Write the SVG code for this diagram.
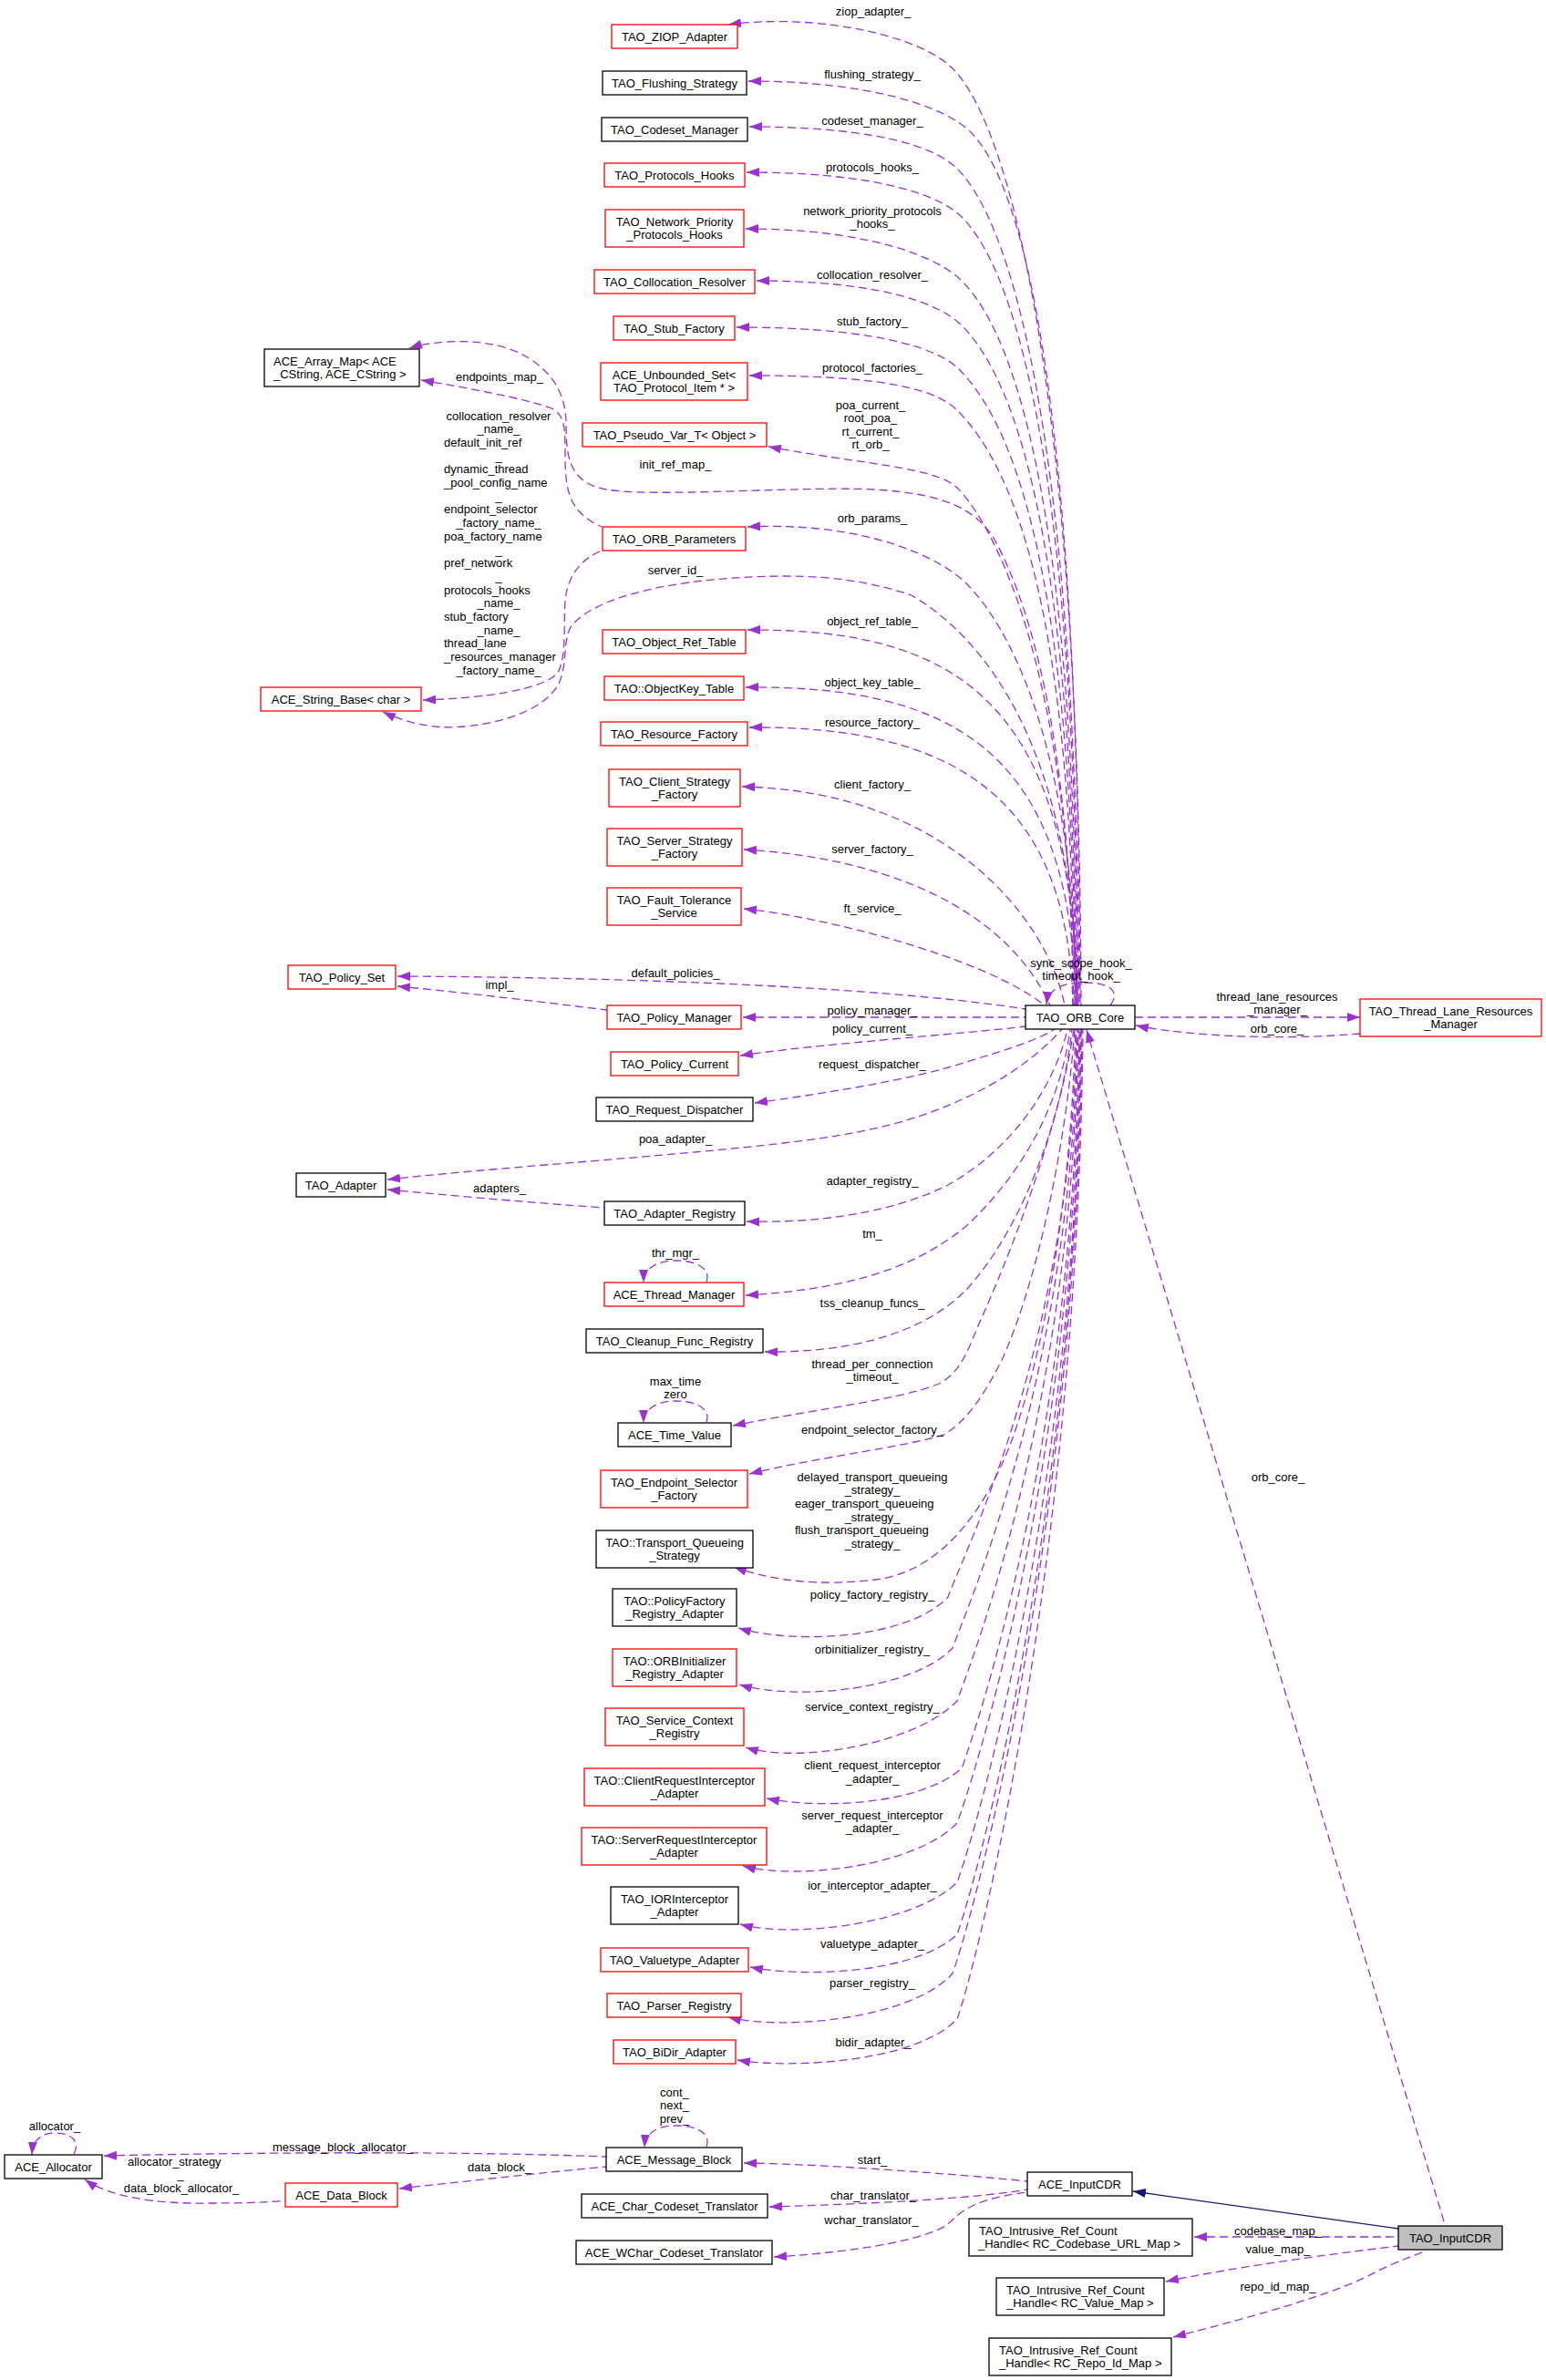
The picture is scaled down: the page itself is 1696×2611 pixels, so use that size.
<svg xmlns="http://www.w3.org/2000/svg" width="1696" height="2611" viewBox="0 0 1696 2611">
<defs>
<marker id="a" viewBox="0 0 14 10" refX="14" refY="5" markerWidth="14" markerHeight="10" markerUnits="userSpaceOnUse" orient="auto-start-reverse"><path d="M0,0 L14,5 L0,10 z" fill="#9a32cd"/></marker>
<marker id="b" viewBox="0 0 14 10" refX="14" refY="5" markerWidth="14" markerHeight="10" markerUnits="userSpaceOnUse" orient="auto-start-reverse"><path d="M0,0 L14,5 L0,10 z" fill="#191970"/></marker>
</defs>
<style>
text{font-family:"Liberation Sans",Arial,Helvetica,sans-serif;font-size:13px;fill:#000}
.n rect{fill:#fff;stroke:#000;stroke-width:1.3}
.r rect{stroke:#ff0000}
.g rect{fill:#bfbfbf}
.n text{text-anchor:middle}
.n text.l{text-anchor:start}
#edges path{fill:none;stroke:#9a32cd;stroke-width:1.3;stroke-dasharray:9,5}
#edges path.s{marker-start:url(#a)}
#edges path.e{marker-end:url(#a)}
#edges path.inh{stroke:#191970;stroke-dasharray:none;marker-end:url(#b)}
#labels text{text-anchor:middle}
#labels text.l{text-anchor:start}
</style>
<rect width="1696" height="2611" fill="#fff"/>
<g id="edges">
<path class="s" d="M799,27 C900,14 1010,40 1045,75 C1110,140 1184,435 1186,1103"/>
<path class="s" d="M821,89 C955,89 1037,117 1065,145 C1130,210 1183,480 1185,1103"/>
<path class="s" d="M822,139 C947,139 1022,157 1050,185 C1115,250 1181,506 1184,1103"/>
<path class="s" d="M819,189 C949,189 1027,210 1055,238 C1120,303 1180,541 1183,1103"/>
<path class="s" d="M818,251 C948,251 1027,280 1055,308 C1120,373 1179,586 1182,1103"/>
<path class="s" d="M830,308 C954,308 1027,329 1055,357 C1120,422 1178,618 1181,1103"/>
<path class="s" d="M808,359 C942,359 1024,377 1052,405 C1117,470 1177,649 1180,1103"/>
<path class="s" d="M822,412 C947,412 1022,422 1050,450 C1115,515 1176,679 1179,1103"/>
<path class="s" d="M843,490 C950,510 1025,512 1050,535 C1090,575 1175,734 1178,1103"/>
<path class="s" d="M449,382 C480,372 540,370 575,390 C608,408 621,435 621,465 C621,500 624,530 665,537 C720,546 880,533 960,537 C1040,542 1070,560 1090,590 C1140,680 1176,850 1177,1103"/>
<path class="s" d="M462,417 C510,425 580,438 605,448 C620,455 620,470 620,500 C620,540 625,562 660,578"/>
<path class="s" d="M464,768 C530,766 595,757 612,738 C622,720 618,680 620,660 C622,630 640,612 660,604"/>
<path class="s" d="M820,578 C950,572 1032,612 1060,640 C1100,680 1178,802 1181,1103"/>
<path class="s" d="M420,781 C450,795 480,800 510,797 C560,792 600,775 613,750 C623,728 617,705 626,688 C650,655 740,633 860,632 C920,632 960,640 1000,653 C1080,700 1178,820 1182,1103"/>
<path class="s" d="M820,691 C1040,690 1178,760 1181,1103"/>
<path class="s" d="M818,754 C1040,752 1176,820 1180,1103"/>
<path class="s" d="M822,798 C1040,796 1172,870 1177,1103"/>
<path class="s" d="M814,863 C1040,868 1150,1010 1168,1103"/>
<path class="s" d="M816,932 C960,940 1100,990 1152,1103"/>
<path class="s" d="M816,997 C900,1005 1080,1050 1146,1103"/>
<path class="s" d="M436,1071 C650,1072 950,1080 1125,1107"/>
<path class="s" d="M436,1082 C520,1090 600,1100 666,1108"/>
<path class="s" d="M815,1116 L1125,1116"/>
<path class="s" d="M812,1158 C900,1145 1050,1135 1125,1126"/>
<path class="s" d="M828,1210 C900,1200 1000,1185 1060,1165 C1110,1150 1140,1140 1157,1129"/>
<path class="s" d="M425,1294 C600,1275 850,1262 950,1240 C1040,1222 1120,1180 1165,1129"/>
<path class="s" d="M425,1305 C500,1312 590,1320 663,1325"/>
<path class="s" d="M819,1340 C900,1342 980,1330 1040,1300 C1120,1255 1160,1180 1171,1129"/>
<path class="s" d="M818,1421 C920,1415 1000,1395 1060,1345 C1130,1280 1165,1200 1174,1129"/>
<path class="s" d="M839,1483 C930,1484 1010,1465 1060,1415 C1120,1350 1165,1230 1176,1129"/>
<path class="s" d="M804,1564 C900,1545 990,1535 1030,1518 C1055,1505 1062,1480 1075,1450 C1120,1350 1165,1220 1178,1129"/>
<path class="s" d="M822,1617 C900,1598 990,1588 1035,1574 C1060,1560 1080,1530 1100,1490 C1140,1400 1170,1250 1179,1129"/>
<path class="s" d="M805,1719 C850,1735 900,1740 960,1733 C1030,1725 1080,1660 1110,1580 C1150,1470 1175,1300 1180,1129"/>
<path class="s" d="M810,1786 C870,1804 995,1799 1040,1752 C1060,1697 1175,1472 1181,1129"/>
<path class="s" d="M811,1848 C871,1866 1000,1855 1045,1808 C1065,1753 1176,1502 1182,1129"/>
<path class="s" d="M818,1917 C878,1935 1005,1913 1050,1866 C1070,1811 1177,1534 1183,1129"/>
<path class="s" d="M841,1973 C901,1985 1010,1980 1055,1940 C1075,1885 1178,1575 1184,1129"/>
<path class="s" d="M815,2047 C875,2063 1005,2047 1050,2000 C1070,1945 1179,1608 1185,1129"/>
<path class="s" d="M812,2111 C872,2127 1005,2110 1050,2065 C1070,2010 1180,1644 1186,1129"/>
<path class="s" d="M823,2158 C883,2170 1005,2165 1050,2122 C1070,2067 1180,1675 1186,1129"/>
<path class="s" d="M799,2213 C860,2228 1000,2215 1045,2165 C1065,2110 1181,1699 1187,1129"/>
<path class="s" d="M809,2260 C870,2270 1005,2262 1050,2215 C1070,2160 1182,1726 1188,1129"/>
<path class="e" d="M1218,1103 C1228,1090 1222,1078 1190,1078 C1165,1078 1150,1085 1148,1102"/>
<path class="e" d="M1245,1116 L1492,1116"/>
<path class="s" d="M1246,1125 C1300,1136 1400,1142 1492,1134"/>
<path class="e" d="M1584,2437 L1192,1130"/>
<path class="e" d="M775,1406 C780,1392 765,1383 741,1383 C720,1383 706,1392 706,1407"/>
<path class="e" d="M775,1560 C780,1546 765,1537 741,1537 C720,1537 706,1546 706,1561"/>
<path class="e" d="M775,2355 C780,2340 765,2332 742,2332 C720,2332 708,2340 707,2356"/>
<path class="e" d="M81,2363 C88,2350 80,2340 60,2340 C45,2340 36,2348 35,2364"/>
<path class="s" d="M816,2373 C900,2374 1050,2385 1127,2393"/>
<path class="s" d="M844,2421 C950,2418 1070,2412 1127,2402"/>
<path class="s" d="M849,2476 C950,2470 1020,2455 1040,2440 C1055,2425 1070,2412 1127,2405"/>
<path class="s" d="M114,2365 C300,2361 500,2360 665,2366"/>
<path class="s" d="M438,2401 C520,2392 600,2383 665,2377"/>
<path class="s" d="M93,2391 C120,2410 170,2418 230,2417 C270,2417 295,2416 313,2414"/>
<path class="s" d="M1310,2454 L1534,2454"/>
<path class="s" d="M1279,2503 C1350,2488 1450,2474 1534,2464"/>
<path class="s" d="M1287,2564 C1380,2540 1470,2515 1510,2492 C1535,2480 1550,2475 1562,2470"/>
<path class="inh" d="M1534,2445 L1243,2404"/>
</g>
<g id="labels">
<text x="958" y="16.5">ziop_adapter_</text>
<text x="957" y="85.5">flushing_strategy_</text>
<text x="957" y="136.5">codeset_manager_</text>
<text x="957" y="187.5">protocols_hooks_</text>
<text x="957" y="235.5">network_priority_protocols</text>
<text x="957" y="249.5">_hooks_</text>
<text x="957" y="305.5">collocation_resolver_</text>
<text x="957" y="356.5">stub_factory_</text>
<text x="957" y="407.5">protocol_factories_</text>
<text x="548" y="417.5">endpoints_map_</text>
<text x="955" y="448.5">poa_current_</text>
<text x="955" y="463">root_poa_</text>
<text x="955" y="477.5">rt_current_</text>
<text x="955" y="492">rt_orb_</text>
<text x="741" y="513.5">init_ref_map_</text>
<text x="547" y="460.5">collocation_resolver</text>
<text x="547" y="475.2">_name_</text>
<text class="l" x="487" y="489.9">default_init_ref</text>
<text x="547" y="504.6">_</text>
<text class="l" x="487" y="519.3">dynamic_thread</text>
<text class="l" x="487" y="534">_pool_config_name</text>
<text x="547" y="548.7">_</text>
<text class="l" x="487" y="563.4">endpoint_selector</text>
<text x="547" y="578.1">_factory_name_</text>
<text class="l" x="487" y="592.8">poa_factory_name</text>
<text x="547" y="607.5">_</text>
<text class="l" x="487" y="622.2">pref_network</text>
<text x="547" y="636.9">_</text>
<text class="l" x="487" y="651.6">protocols_hooks</text>
<text x="547" y="666.3">_name_</text>
<text class="l" x="487" y="681">stub_factory</text>
<text x="547" y="695.7">_name_</text>
<text class="l" x="487" y="710.4">thread_lane</text>
<text class="l" x="487" y="725.1">_resources_manager</text>
<text x="547" y="739.8">_factory_name_</text>
<text x="957" y="572.5">orb_params_</text>
<text x="741" y="629.5">server_id_</text>
<text x="957" y="685.5">object_ref_table_</text>
<text x="957" y="752.5">object_key_table_</text>
<text x="957" y="796.5">resource_factory_</text>
<text x="957" y="864.5">client_factory_</text>
<text x="957" y="935.5">server_factory_</text>
<text x="957" y="1000.5">ft_service_</text>
<text x="1186" y="1060.5">sync_scope_hook_</text>
<text x="1186" y="1075">timeout_hook_</text>
<text x="741" y="1071.5">default_policies_</text>
<text x="548" y="1084.5">impl_</text>
<text x="957" y="1112.5">policy_manager_</text>
<text x="957" y="1132.5">policy_current_</text>
<text x="1401" y="1097.5">thread_lane_resources</text>
<text x="1401" y="1112">_manager_</text>
<text x="1401" y="1132.5">orb_core_</text>
<text x="957" y="1171.5">request_dispatcher_</text>
<text x="741" y="1253.5">poa_adapter_</text>
<text x="957" y="1299.5">adapter_registry_</text>
<text x="548" y="1307.5">adapters_</text>
<text x="957" y="1357.5">tm_</text>
<text x="741" y="1378.5">thr_mgr_</text>
<text x="957" y="1433.5">tss_cleanup_funcs_</text>
<text x="957" y="1500.5">thread_per_connection</text>
<text x="957" y="1515">_timeout_</text>
<text x="741" y="1519.5">max_time</text>
<text x="741" y="1533.5">zero</text>
<text x="957" y="1572.5">endpoint_selector_factory_</text>
<text x="957" y="1624.5">delayed_transport_queueing</text>
<text x="957" y="1639">_strategy_</text>
<text class="l" x="872" y="1653.5">eager_transport_queueing</text>
<text x="957" y="1668.5">_strategy_</text>
<text class="l" x="872" y="1683">flush_transport_queueing</text>
<text x="957" y="1697.5">_strategy_</text>
<text x="957" y="1753.5">policy_factory_registry_</text>
<text x="957" y="1813.5">orbinitializer_registry_</text>
<text x="957" y="1876.5">service_context_registry_</text>
<text x="957" y="1940.5">client_request_interceptor</text>
<text x="957" y="1955.5">_adapter_</text>
<text x="957" y="1995.5">server_request_interceptor</text>
<text x="957" y="2009.5">_adapter_</text>
<text x="957" y="2072.5">ior_interceptor_adapter_</text>
<text x="957" y="2136.5">valuetype_adapter_</text>
<text x="957" y="2179.5">parser_registry_</text>
<text x="958" y="2244.5">bidir_adapter_</text>
<text x="740" y="2299.5">cont_</text>
<text x="740" y="2313.5">next_</text>
<text x="740" y="2328.5">prev_</text>
<text x="60" y="2336.5">allocator_</text>
<text x="376" y="2359.5">message_block_allocator_</text>
<text class="l" x="140" y="2375.5">allocator_strategy</text>
<text x="198" y="2390">_</text>
<text x="199" y="2404.5">data_block_allocator_</text>
<text x="548" y="2381.5">data_block_</text>
<text x="957" y="2373.5">start_</text>
<text x="958" y="2412.5">char_translator_</text>
<text x="956" y="2439.5">wchar_translator_</text>
<text x="1402" y="1624.5">orb_core_</text>
<text x="1402" y="2451.5">codebase_map_</text>
<text x="1402" y="2471.5">value_map_</text>
<text x="1402" y="2512.5">repo_id_map_</text>
</g>
<g id="n1" class="n r"><rect x="671" y="27" width="138" height="26"/><text x="740" y="44.5">TAO_ZIOP_Adapter</text></g>
<g id="n2" class="n"><rect x="661" y="78" width="158" height="26"/><text x="740" y="95.5">TAO_Flushing_Strategy</text></g>
<g id="n3" class="n"><rect x="660" y="129" width="160" height="26"/><text x="740" y="146.5">TAO_Codeset_Manager</text></g>
<g id="n4" class="n r"><rect x="663" y="179" width="154" height="26"/><text x="740" y="196.5">TAO_Protocols_Hooks</text></g>
<g id="n5" class="n r"><rect x="664" y="230" width="152" height="41"/><text x="740" y="248">TAO_Network_Priority</text><text x="740" y="262">_Protocols_Hooks</text></g>
<g id="n6" class="n r"><rect x="652" y="296" width="176" height="26"/><text x="740" y="313.5">TAO_Collocation_Resolver</text></g>
<g id="n7" class="n r"><rect x="673" y="347" width="133" height="26"/><text x="739.5" y="364.5">TAO_Stub_Factory</text></g>
<g id="n8" class="n"><rect x="290" y="383" width="170" height="41"/><text class="l" x="300" y="401">ACE_Array_Map&lt; ACE</text><text class="l" x="300" y="415">_CString, ACE_CString &gt;</text></g>
<g id="n9" class="n r"><rect x="659" y="398" width="161" height="41"/><text x="739.5" y="416">ACE_Unbounded_Set&lt;</text><text x="739.5" y="430">TAO_Protocol_Item * &gt;</text></g>
<g id="n10" class="n r"><rect x="639" y="464" width="202" height="26"/><text x="740" y="481.5">TAO_Pseudo_Var_T&lt; Object &gt;</text></g>
<g id="n11" class="n r"><rect x="661" y="578" width="157" height="26"/><text x="739.5" y="595.5">TAO_ORB_Parameters</text></g>
<g id="n12" class="n r"><rect x="661" y="691" width="157" height="26"/><text x="739.5" y="708.5">TAO_Object_Ref_Table</text></g>
<g id="n13" class="n r"><rect x="663" y="742" width="153" height="26"/><text x="739.5" y="759.5">TAO::ObjectKey_Table</text></g>
<g id="n14" class="n r"><rect x="286" y="754" width="176" height="26"/><text x="374" y="771.5">ACE_String_Base&lt; char &gt;</text></g>
<g id="n15" class="n r"><rect x="659" y="792" width="161" height="26"/><text x="739.5" y="809.5">TAO_Resource_Factory</text></g>
<g id="n16" class="n r"><rect x="668" y="844" width="144" height="41"/><text x="740" y="862">TAO_Client_Strategy</text><text x="740" y="876">_Factory</text></g>
<g id="n17" class="n r"><rect x="666" y="909" width="148" height="41"/><text x="740" y="927">TAO_Server_Strategy</text><text x="740" y="941">_Factory</text></g>
<g id="n18" class="n r"><rect x="666" y="974" width="147" height="41"/><text x="739.5" y="992">TAO_Fault_Tolerance</text><text x="739.5" y="1006">_Service</text></g>
<g id="n19" class="n r"><rect x="316" y="1059" width="118" height="26"/><text x="375" y="1076.5">TAO_Policy_Set</text></g>
<g id="n20" class="n r"><rect x="666" y="1103" width="147" height="26"/><text x="739.5" y="1120.5">TAO_Policy_Manager</text></g>
<g id="n21" class="n"><rect x="1125" y="1103" width="120" height="26"/><text x="1185" y="1120.5">TAO_ORB_Core</text></g>
<g id="n22" class="n r"><rect x="1492" y="1096" width="199" height="41"/><text x="1591.5" y="1114">TAO_Thread_Lane_Resources</text><text x="1591.5" y="1128">_Manager</text></g>
<g id="n23" class="n r"><rect x="670" y="1154" width="140" height="26"/><text x="740" y="1171.5">TAO_Policy_Current</text></g>
<g id="n24" class="n"><rect x="654" y="1204" width="172" height="26"/><text x="740" y="1221.5">TAO_Request_Dispatcher</text></g>
<g id="n25" class="n"><rect x="325" y="1287" width="98" height="26"/><text x="374" y="1304.5">TAO_Adapter</text></g>
<g id="n26" class="n"><rect x="663" y="1318" width="154" height="26"/><text x="740" y="1335.5">TAO_Adapter_Registry</text></g>
<g id="n27" class="n r"><rect x="663" y="1407" width="153" height="26"/><text x="739.5" y="1424.5">ACE_Thread_Manager</text></g>
<g id="n28" class="n"><rect x="643" y="1458" width="194" height="26"/><text x="740" y="1475.5">TAO_Cleanup_Func_Registry</text></g>
<g id="n29" class="n"><rect x="678" y="1561" width="124" height="26"/><text x="740" y="1578.5">ACE_Time_Value</text></g>
<g id="n30" class="n r"><rect x="659" y="1613" width="161" height="41"/><text x="739.5" y="1631">TAO_Endpoint_Selector</text><text x="739.5" y="1645">_Factory</text></g>
<g id="n31" class="n"><rect x="654" y="1679" width="172" height="41"/><text x="740" y="1697">TAO::Transport_Queueing</text><text x="740" y="1711">_Strategy</text></g>
<g id="n32" class="n"><rect x="672" y="1743" width="136" height="41"/><text x="740" y="1761">TAO::PolicyFactory</text><text x="740" y="1775">_Registry_Adapter</text></g>
<g id="n33" class="n r"><rect x="672" y="1809" width="136" height="41"/><text x="740" y="1827">TAO::ORBInitializer</text><text x="740" y="1841">_Registry_Adapter</text></g>
<g id="n34" class="n r"><rect x="664" y="1874" width="152" height="41"/><text x="740" y="1892">TAO_Service_Context</text><text x="740" y="1906">_Registry</text></g>
<g id="n35" class="n r"><rect x="641" y="1940" width="198" height="41"/><text x="740" y="1958">TAO::ClientRequestInterceptor</text><text x="740" y="1972">_Adapter</text></g>
<g id="n36" class="n r"><rect x="638" y="2005" width="203" height="41"/><text x="739.5" y="2023">TAO::ServerRequestInterceptor</text><text x="739.5" y="2037">_Adapter</text></g>
<g id="n37" class="n"><rect x="670" y="2070" width="140" height="41"/><text x="740" y="2088">TAO_IORInterceptor</text><text x="740" y="2102">_Adapter</text></g>
<g id="n38" class="n r"><rect x="659" y="2137" width="162" height="26"/><text x="740" y="2154.5">TAO_Valuetype_Adapter</text></g>
<g id="n39" class="n r"><rect x="666" y="2187" width="147" height="26"/><text x="739.5" y="2204.5">TAO_Parser_Registry</text></g>
<g id="n40" class="n r"><rect x="673" y="2238" width="134" height="26"/><text x="740" y="2255.5">TAO_BiDir_Adapter</text></g>
<g id="n41" class="n"><rect x="5" y="2364" width="107" height="26"/><text x="58.5" y="2381.5">ACE_Allocator</text></g>
<g id="n42" class="n"><rect x="665" y="2356" width="149" height="26"/><text x="739.5" y="2373.5">ACE_Message_Block</text></g>
<g id="n43" class="n r"><rect x="313" y="2395" width="123" height="26"/><text x="374.5" y="2412.5">ACE_Data_Block</text></g>
<g id="n44" class="n"><rect x="638" y="2407" width="204" height="26"/><text x="740" y="2424.5">ACE_Char_Codeset_Translator</text></g>
<g id="n45" class="n"><rect x="632" y="2458" width="215" height="26"/><text x="739.5" y="2475.5">ACE_WChar_Codeset_Translator</text></g>
<g id="n46" class="n"><rect x="1127" y="2383" width="115" height="26"/><text x="1184.5" y="2400.5">ACE_InputCDR</text></g>
<g id="n47" class="n g"><rect x="1534" y="2442" width="114" height="26"/><text x="1591" y="2459.5">TAO_InputCDR</text></g>
<g id="n48" class="n"><rect x="1063" y="2434" width="245" height="41"/><text class="l" x="1074" y="2452">TAO_Intrusive_Ref_Count</text><text class="l" x="1073" y="2466">_Handle&lt; RC_Codebase_URL_Map &gt;</text></g>
<g id="n49" class="n"><rect x="1093" y="2499" width="184" height="41"/><text class="l" x="1104" y="2517">TAO_Intrusive_Ref_Count</text><text class="l" x="1104" y="2531">_Handle&lt; RC_Value_Map &gt;</text></g>
<g id="n50" class="n"><rect x="1085" y="2565" width="200" height="41"/><text class="l" x="1096" y="2583">TAO_Intrusive_Ref_Count</text><text class="l" x="1096" y="2597">_Handle&lt; RC_Repo_Id_Map &gt;</text></g>
</svg>
